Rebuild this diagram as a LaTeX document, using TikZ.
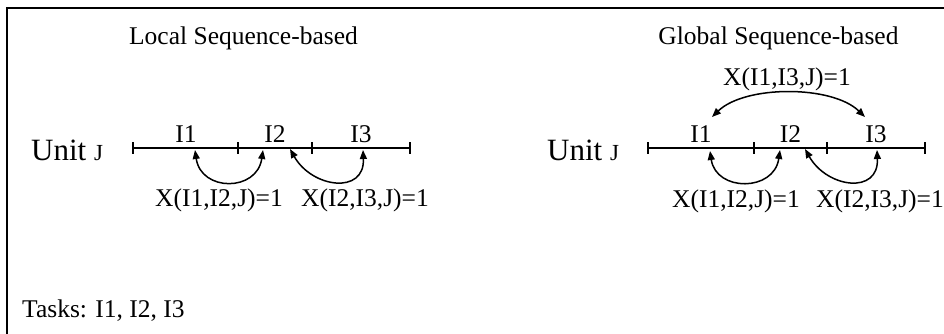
\documentclass[tikz,border=0pt]{standalone}
\usepackage{fontspec}
\setmainfont{Liberation Serif}
\usetikzlibrary{arrows.meta}
\newcommand{\txtfont}{\fontsize{25.5}{30}\selectfont}
\newcommand{\unitfont}{\fontsize{31}{36}\selectfont}
\newcommand{\jfont}{\fontsize{23}{27}\selectfont}
\tikzset{
  x=1pt, y=-1pt,
  lbl/.style={inner sep=0pt, anchor=base, font=\txtfont},
  frameline/.style={line width=2pt, black},
  axis/.style={line width=2pt, black},
  tickmark/.style={line width=1.6pt, black},
  arcarrow/.style={line width=1.5pt, black, {Triangle[length=9pt,width=7pt]}-{Triangle[length=9pt,width=7pt]}}
}
\begin{document}
\begin{tikzpicture}
\useasboundingbox (0,0) rectangle (944,333);
% frame
\coordinate (fTL) at (7,8);
\coordinate (fTR) at (946,8);
\coordinate (fBL) at (7,335);
\draw[frameline] (fTR) -- (fTL) -- (fBL);

% titles
\node[lbl] (tLocal) at (243.5,44) {Local Sequence-based};
\node[lbl] (tGlobal) at (778.5,44) {Global Sequence-based};

% ---------- left ----------
\node[inner sep=0pt, anchor=base west] (uL) at (31,160) {\unitfont Unit\ {\jfont J}};
\coordinate (a0) at (133,148);
\coordinate (a1) at (238,148);
\coordinate (a2) at (312,148);
\coordinate (a3) at (410,148);
\draw[axis] (a0) -- (a3);
\foreach \p in {a0,a1,a2,a3} \draw[tickmark] ([yshift=6pt]\p) -- ([yshift=-6pt]\p);
\node[lbl] (aI1) at (186,142) {I1};
\node[lbl] (aI2) at (275,142) {I2};
\node[lbl] (aI3) at (361,142) {I3};
\coordinate (p1) at (195,150);
\coordinate (p2) at (263,150);
\coordinate (p3) at (290,149);
\coordinate (p4) at (363,150);
\draw[arcarrow] (p1) .. controls (201,192) and (257,192) .. (p2);
\draw[arcarrow] (p3) .. controls (312,188) and (365,195) .. (p4);
\node[lbl] (aX12) at (219,206) {X(I1,I2,J)=1};
\node[lbl] (aX23) at (365,206) {X(I2,I3,J)=1};

% ---------- right ----------
\node[inner sep=0pt, anchor=base west] (uR) at (547,160) {\unitfont Unit\ {\jfont J}};
\coordinate (b0) at (648,148);
\coordinate (b1) at (754,148);
\coordinate (b2) at (827,148);
\coordinate (b3) at (925,148);
\draw[axis] (b0) -- (b3);
\foreach \p in {b0,b1,b2,b3} \draw[tickmark] ([yshift=6pt]\p) -- ([yshift=-6pt]\p);
\node[lbl] (bI1) at (701,142) {I1};
\node[lbl] (bI2) at (790.5,142) {I2};
\node[lbl] (bI3) at (876,142) {I3};
\coordinate (q1) at (710,151);
\coordinate (q2) at (780,150);
\coordinate (q3) at (805,149);
\coordinate (q4) at (877,150);
\coordinate (q5) at (712,117);
\coordinate (q6) at (865,117);
\draw[arcarrow] (q1) .. controls (716,192) and (774,192) .. (q2);
\draw[arcarrow] (q3) .. controls (827,188) and (879,195) .. (q4);
\draw[arcarrow] (q5) .. controls (745,85) and (832,85) .. (q6);
\node[lbl] (bX13) at (787,85) {X(I1,I3,J)=1};
\node[lbl] (bX12) at (736,207) {X(I1,I2,J)=1};
\node[lbl] (bX23) at (880,207) {X(I2,I3,J)=1};

% tasks
\node[inner sep=0pt, anchor=base west, font=\txtfont] (tasks) at (22,317) {Tasks: I1, I2, I3};
\end{tikzpicture}
\end{document}
